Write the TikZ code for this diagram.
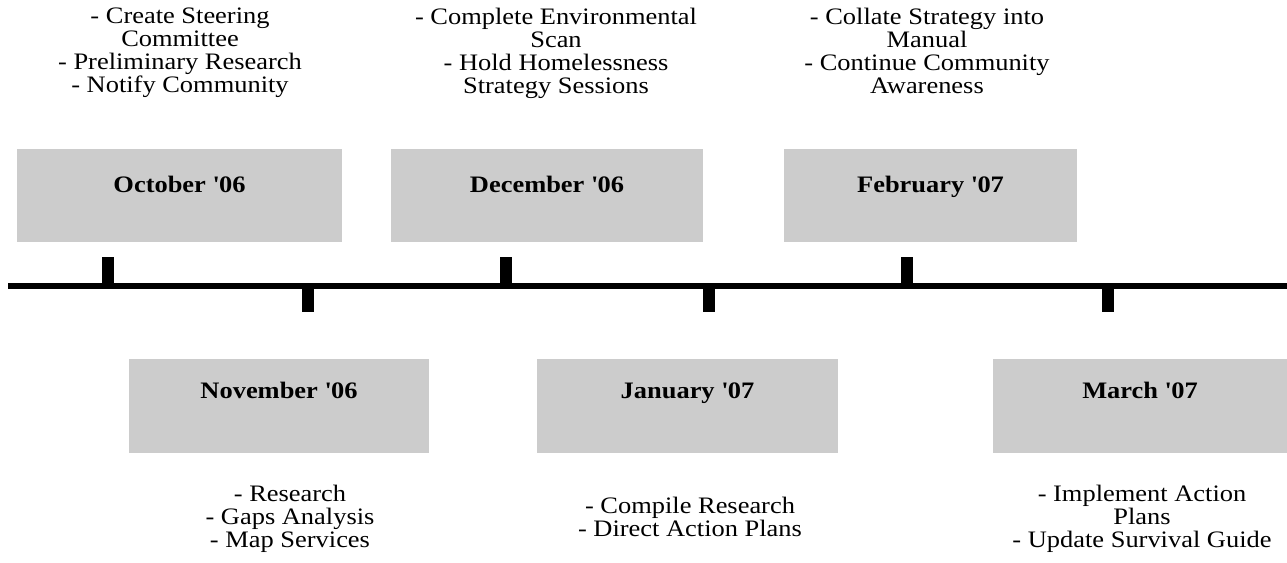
\documentclass[tikz,border=0pt]{standalone}
\usepackage{fontspec}
\setmainfont[FakeStretch=1.12]{Liberation Serif}
\definecolor{boxgray}{HTML}{CCCCCC}
\newcommand{\yr}[1]{\textquotesingle#1}
\begin{document}
\begin{tikzpicture}[x=0.75pt,y=-0.75pt,
  monthbox/.style={fill=boxgray},
  monthlabel/.style={font=\fontsize{17.7pt}{17.25pt}\selectfont\bfseries, inner sep=0pt, anchor=base},
  tasks/.style={font=\fontsize{17.7pt}{17.25pt}\selectfont, align=center, inner sep=0pt, anchor=north},
  tick/.style={fill=black},
  axis/.style={line width=4.5pt, black}]
\useasboundingbox (0,0) rectangle (1287,563);

% month boxes above the axis
\path[monthbox] (17,149) rectangle (342,242);
\path[monthbox] (391,149) rectangle (703,242);
\path[monthbox] (784,149) rectangle (1077,242);
% month boxes below the axis
\path[monthbox] (129,359) rectangle (429,453);
\path[monthbox] (537,359) rectangle (838,453);
\path[monthbox] (993,359) rectangle (1287,453);

\node[monthlabel] (oct) at (179.5,192) {October \yr{06}};
\node[monthlabel] (dec) at (547,192) {December \yr{06}};
\node[monthlabel] (feb) at (930.5,192) {February \yr{07}};
\node[monthlabel] (nov) at (279,398) {November \yr{06}};
\node[monthlabel] (jan) at (687.5,398) {January \yr{07}};
\node[monthlabel] (mar) at (1140,398) {March \yr{07}};

% axis with ticks
\coordinate (axisL) at (8,286);
\coordinate (axisR) at (1287,286);
\draw[axis] (axisL) -- (axisR);
\path[tick] (102,257) rectangle (114,286);
\path[tick] (500,257) rectangle (512,286);
\path[tick] (901,257) rectangle (913,286);
\path[tick] (302,286) rectangle (314,312);
\path[tick] (703,286) rectangle (715,312);
\path[tick] (1102,286) rectangle (1114,312);

% task lists
\node[tasks] (octtasks) at (180,8) {- Create Steering\\Committee\\- Preliminary Research\\- Notify Community};
\node[tasks] (dectasks) at (556,8) {- Complete Environmental\\Scan\\- Hold Homelessness\\Strategy Sessions};
\node[tasks] (febtasks) at (927,8) {- Collate Strategy into\\Manual\\- Continue Community\\Awareness};
\node[tasks] (novtasks) at (290,485) {- Research\\- Gaps Analysis\\- Map Services};
\node[tasks] (jantasks) at (690,497) {- Compile Research\\- Direct Action Plans};
\node[tasks] (martasks) at (1142,485) {- Implement Action\\Plans\\- Update Survival Guide};
\end{tikzpicture}
\end{document}
